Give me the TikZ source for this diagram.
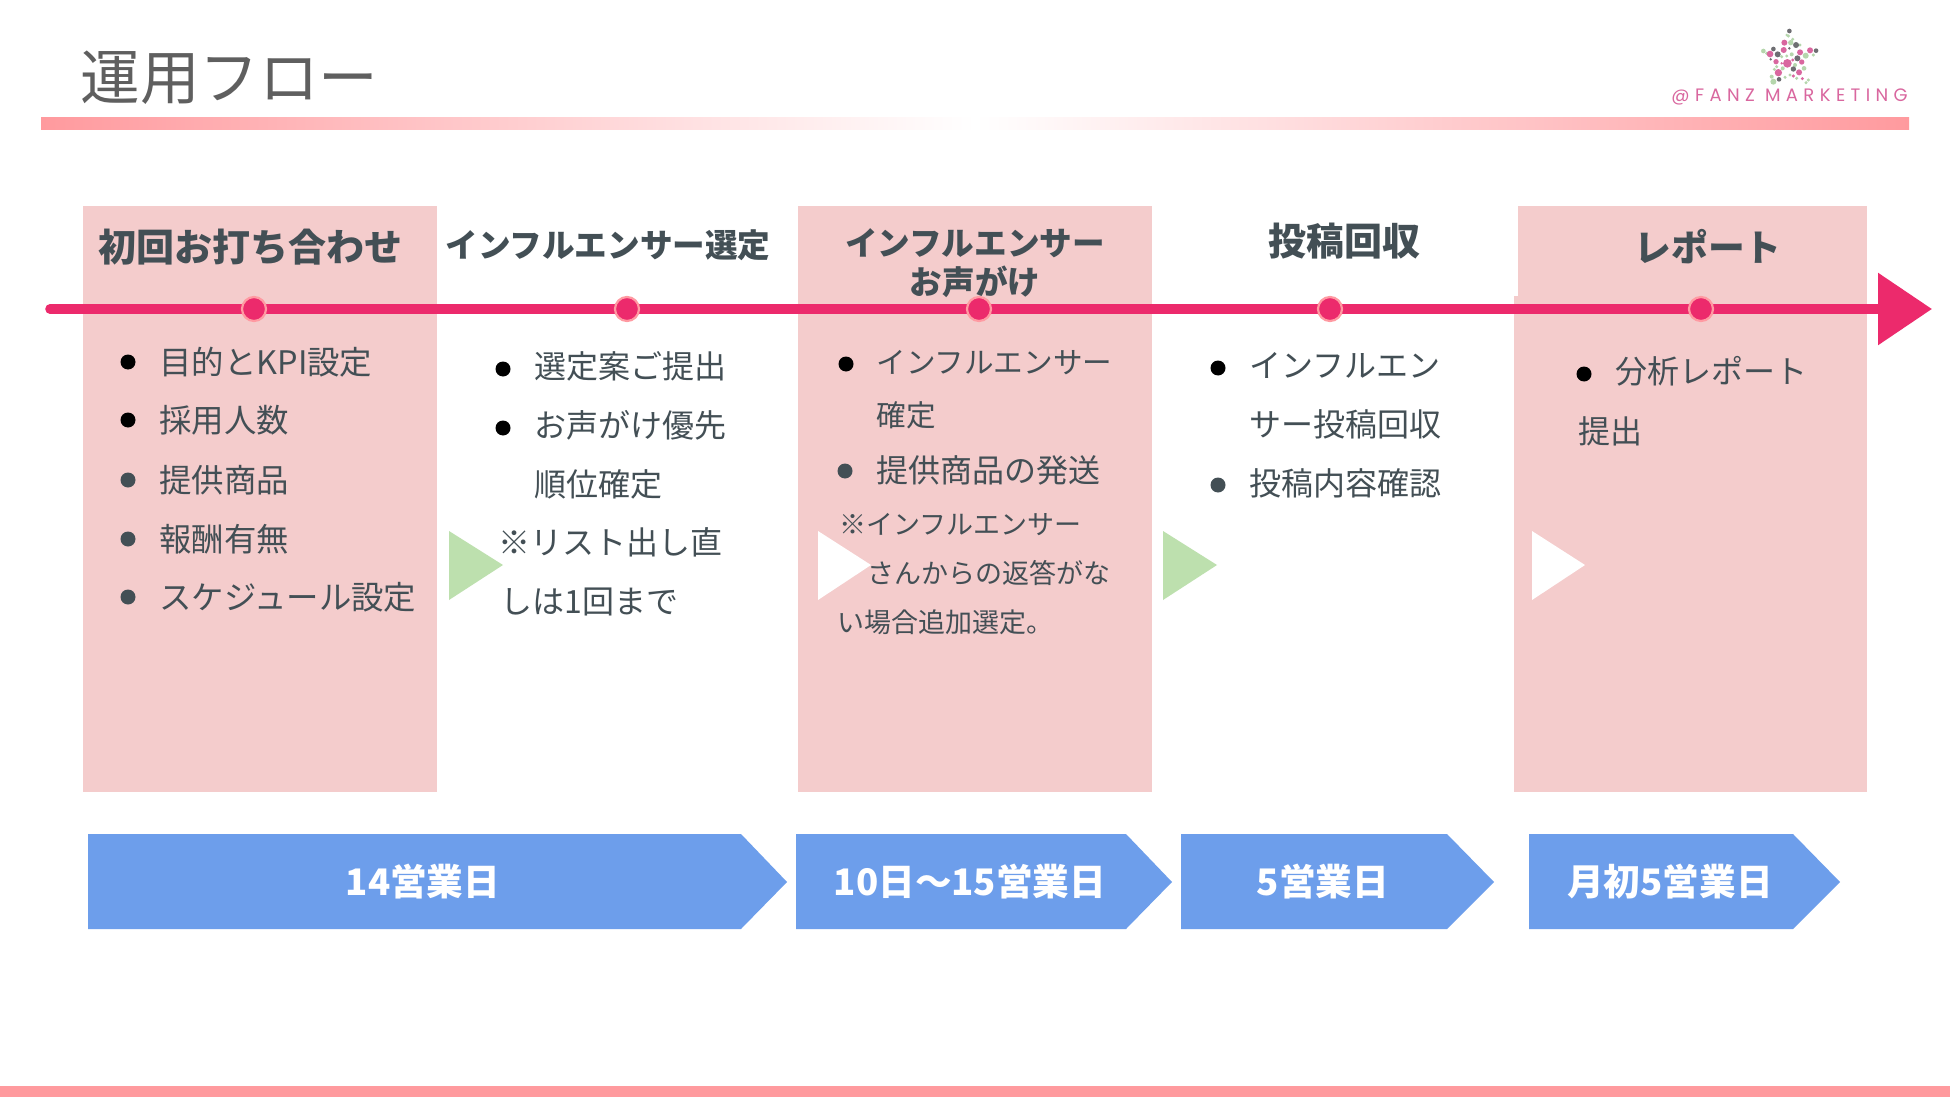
\documentclass[tikz,border=0pt]{standalone}
\usepackage{fontspec}
\setmainfont{Noto Sans CJK JP}
\newfontfamily\logofont{Poppins}[LetterSpace=30]
\usetikzlibrary{arrows.meta,shapes.geometric,shapes.symbols}
\definecolor{boxpink}{HTML}{F4CCCC}
\definecolor{linepink}{HTML}{EC2A6C}
\definecolor{dotring}{HTML}{FF9AA2}
\definecolor{barpink}{HTML}{FF9A9E}
\definecolor{chev}{HTML}{6D9EEB}
\definecolor{tri}{HTML}{BDE0AE}
\definecolor{ink}{HTML}{434F55}
\definecolor{titleink}{HTML}{5F5F5F}
\definecolor{logopink}{HTML}{D9679F}
\definecolor{logogray}{HTML}{6E6E72}
\definecolor{logogreen}{HTML}{B5D6AC}
\tikzset{
  x=0.5pt,y=-0.5pt,
  panel/.style={fill=boxpink,draw=none},
  head/.style={inner sep=0pt,text=ink,font=\bfseries,align=center},
  body/.style={inner sep=0pt,anchor=west,text=ink,font=\fontsize{16}{16}\selectfont},
  bodyw/.style={inner sep=0pt,anchor=west,text=ink,font=\fontsize{16.2}{16.2}\selectfont},
  bodyn/.style={inner sep=0pt,anchor=west,text=ink,font=\fontsize{14.8}{14.8}\selectfont},
  small/.style={inner sep=0pt,anchor=west,text=ink,font=\fontsize{13.5}{13.5}\selectfont},
  bul/.style={circle,inner sep=0pt,minimum size=7.5pt,fill=#1},
  milestone/.style={circle,inner sep=0pt,minimum size=12pt,fill=linepink,draw=dotring,line width=1.1pt},
  daytext/.style={inner sep=0pt,text=white,font=\bfseries\fontsize{18.3}{18.3}\selectfont},
}
\begin{document}
\begin{tikzpicture}
\useasboundingbox (0,0) rectangle (1950,1097);
\fill[white] (0,0) rectangle (1950,1097);
% header bar
\fill[left color=barpink,right color=white] (41,118) rectangle (975,130);
\fill[left color=white,right color=barpink] (975,118) rectangle (1909,130);
\fill[barpink] (0,1086) rectangle (1950,1097);
\node[inner sep=0pt,anchor=west,text=titleink,font=\fontsize{29.8}{29.8}\selectfont] (title) at (80,78) {運用フロー};
% logo
\begin{scope}[shift={(1600,0)},x=0.1667pt,y=-0.1667pt]
\foreach \a/\b/\r in {572/128/8,490/153/7,617/167/9,520/245/9,565/108/5,578/118/5,612/205/7,548/205/6,523/208/5,570/225/5,590/235/5,545/170/5,575/163/6,618/248/5,500/160/5,640/165/5,560/168/5,585/195/6,515/230/6,530/200/5,625/240/5,555/232/5,560/105/4,600/135/5}
  \fill[logogreen] (\a,\b) circle[radius=\r*0.1667pt];
\foreach \a/\b/\r in {568/93/7,520/147/7,588/135/9,533/163/9,648/152/7,592/175/9,580/207/8,537/238/7,512/178/4,568/145/4}
  \fill[logogray] (\a,\b) circle[radius=\r*0.1667pt];
\foreach \a/\b/\r in {553/128/9,551/150/9,510/162/10,600/157/9,630/151/9,562/190/13,528/185/8,605/186/8,535/218/11,597/217/9,607/236/5,580/228/5,578/180/5,545/190/4}
  \fill[logopink] (\a,\b) circle[radius=\r*0.1667pt];
\end{scope}
\node[inner sep=0pt,anchor=west,text=logopink,font=\logofont\fontsize{9}{9}\selectfont] (logo) at (1671,97) {@FANZ MARKETING};
% panels
\fill[panel] (83,206) rectangle (437,792);
\fill[panel] (798,206) rectangle (1152,792);
\fill[panel] (1514,206) rectangle (1867,792);
\fill[white] (1514,206) rectangle (1518,296);
% triangles
\fill[tri] (449,531) -- (503,565) -- (449,600) -- cycle;
\fill[white] (818,531) -- (871,565) -- (818,600) -- cycle;
\fill[tri] (1163,531) -- (1217,565) -- (1163,600) -- cycle;
\fill[white] (1532,531) -- (1585,565) -- (1532,600) -- cycle;
% timeline
\coordinate (tlstart) at (50,309);
\coordinate (tlend) at (1932,309);
\draw[linepink,line width=4.8pt,line cap=round,-{Triangle[length=27pt,width=35pt]}] (tlstart) -- (tlend);
\node[milestone] (m1) at (254,309) {};
\node[milestone] (m2) at (627,309) {};
\node[milestone] (m3) at (979,309) {};
\node[milestone] (m4) at (1330,309) {};
\node[milestone] (m5) at (1701,309) {};
% headers
\node[head,font=\bfseries\fontsize{19}{19}\selectfont] (h1) at (250,247) {初回お打ち合わせ};
\node[head,font=\bfseries\fontsize{16.3}{16.3}\selectfont] (h2) at (608,245) {インフルエンサー選定};
\node[head,font=\bfseries\fontsize{16.3}{16.3}\selectfont] (h3a) at (975,243) {インフルエンサー};
\node[head,font=\bfseries\fontsize{16.3}{16.3}\selectfont] (h3b) at (975,282) {お声がけ};
\node[head,font=\bfseries\fontsize{19}{19}\selectfont] (h4) at (1344,241) {投稿回収};
\node[head,font=\bfseries\fontsize{18.4}{18.4}\selectfont] (h5) at (1708,247) {レポート};
% column 1
\foreach \yy/\c/\t in {362/black/目的とKPI設定,420/black/採用人数,480/ink/提供商品,539/ink/報酬有無,597/ink/スケジュール設定}{
  \node[bul=\c] at (128,\yy) {};
  \node[bodyw] at (159,\yy) {\t};
}
% column 2
\node[bul=black] (b21) at (503,369) {};
\node[body] (t21) at (534,366) {選定案ご提出};
\node[bul=black] (b22) at (503,428) {};
\node[body] (t22) at (534,425) {お声がけ優先};
\node[body] (t23) at (534,484) {順位確定};
\node[body] (t24) at (498,542) {※リスト出し直};
\node[body] (t25) at (500,602) {しは1回まで};
% column 3
\node[bul=black] (b31) at (846,364) {};
\node[bodyn] (t31) at (876,363) {インフルエンサー};
\node[bodyn] (t32) at (876,415) {確定};
\node[bul=ink] (b32) at (845,471) {};
\node[body] (t33) at (876,470) {提供商品の発送};
\node[small] (t34) at (839,525) {※インフルエンサー};
\node[small] (t35) at (867,573) {さんからの返答がな};
\node[small] (t36) at (837,622) {い場合追加選定。};
% column 4
\node[bul=black] (b41) at (1218,368) {};
\node[body] (t41) at (1249,365) {インフルエン};
\node[body] (t42) at (1249,424) {サー投稿回収};
\node[bul=ink] (b42) at (1218,485) {};
\node[body] (t43) at (1249,483) {投稿内容確認};
% column 5
\node[bul=black] (b51) at (1584,374) {};
\node[body] (t51) at (1615,371) {分析レポート};
\node[body] (t52) at (1578,431) {提出};
% day chevrons
\fill[chev] (88,834) -- (741,834) -- (787,882) -- (741,929) -- (88,929) -- cycle;
\fill[chev] (796,834) -- (1126,834) -- (1172,882) -- (1126,929) -- (796,929) -- cycle;
\fill[chev] (1181,834) -- (1447,834) -- (1494,882) -- (1447,929) -- (1181,929) -- cycle;
\fill[chev] (1529,834) -- (1793,834) -- (1840,882) -- (1793,929) -- (1529,929) -- cycle;
\node[daytext] (d1) at (423,882) {14営業日};
\node[daytext] (d2) at (970,882) {10日～15営業日};
\node[daytext] (d3) at (1323,882) {5営業日};
\node[daytext] (d4) at (1670,882) {月初5営業日};
\end{tikzpicture}
\end{document}
